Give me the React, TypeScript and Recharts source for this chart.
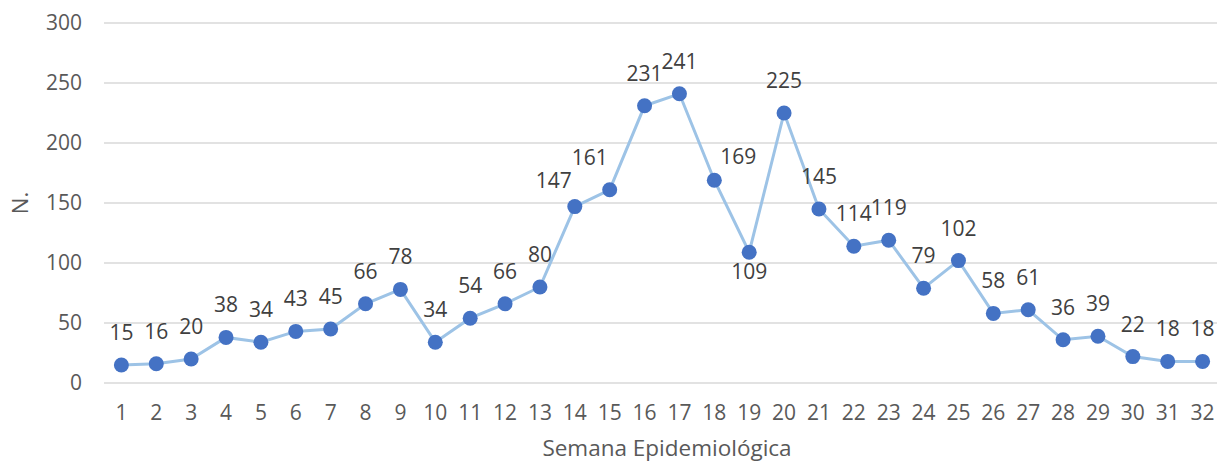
import { LineChart, Line, XAxis, YAxis, CartesianGrid, LabelList, Label } from 'recharts';

const weeks = [
  1, 2, 3, 4, 5, 6, 7, 8, 9, 10, 11, 12, 13, 14, 15, 16,
  17, 18, 19, 20, 21, 22, 23, 24, 25, 26, 27, 28, 29, 30, 31, 32,
];
const cases = [
  15, 16, 20, 38, 34, 43, 45, 66, 78, 34, 54, 66, 80, 147, 161, 231,
  241, 169, 109, 225, 145, 114, 119, 79, 102, 58, 61, 36, 39, 22, 18, 18,
];
const yTicks = [0, 50, 100, 150, 200, 250, 300];

// a few labels were nudged by hand in the original
const LABEL_NUDGE: Record<number, { dx: number; dy: number }> = {
  14: { dx: -21, dy: 6 },
  15: { dx: -20, dy: 0 },
  18: { dx: 24, dy: 9 },
  19: { dx: 0, dy: 52 },
};

const FONT = '"Open Sans", "Noto Sans", sans-serif';

const data = weeks.map((w, i) => ({ week: String(w), n: cases[i] }));

function PointLabel(props: any) {
  const { x, y, value, index } = props;
  const nudge = LABEL_NUDGE[weeks[index]] || { dx: 0, dy: 0 };
  return (
    <text
      x={x + nudge.dx}
      y={y - 25 + nudge.dy}
      textAnchor="middle"
      fill="#404040"
      fontSize={21}
      fontFamily={FONT}
    >
      {value}
    </text>
  );
}

export default function App() {
  return (
    <div style={{ position: 'absolute', left: 0, top: 0, width: 1217, height: 463, overflow: 'hidden', background: '#fff' }}>
      <LineChart width={1220} height={463} data={data} margin={{ top: 23, right: 0, left: 0, bottom: 0 }}>
        <CartesianGrid vertical={false} stroke="#D9D9D9" strokeWidth={1.5} />
        <XAxis
          dataKey="week"
          axisLine={false}
          tickLine={false}
          tickSize={0}
          tickMargin={22}
          height={80}
          interval={0}
          padding={{ left: 17.4, right: 17.4 }}
          tick={{ fill: '#595959', fontSize: 21, fontFamily: FONT }}
        >
          <Label
            content={({ viewBox }: any) => (
              <text
                x={viewBox.x + viewBox.width / 2 + 5}
                y={viewBox.y + viewBox.height - 7}
                textAnchor="middle"
                fill="#595959"
                fontSize={22.5}
                fontFamily={FONT}
              >
                Semana Epidemiológica
              </text>
            )}
          />
        </XAxis>
        <YAxis
          width={104}
          domain={[0, 300]}
          ticks={yTicks}
          axisLine={false}
          tickLine={false}
          tickSize={0}
          tickMargin={22}
          tick={{ fill: '#595959', fontSize: 21, fontFamily: FONT }}
        >
          <Label
            content={({ viewBox }: any) => {
              const cx = viewBox.x + 28;
              const cy = viewBox.y + viewBox.height / 2;
              return (
                <text
                  x={cx}
                  y={cy}
                  transform={`rotate(-90, ${cx}, ${cy})`}
                  textAnchor="middle"
                  fill="#595959"
                  fontSize={22}
                  fontFamily={FONT}
                >
                  N.
                </text>
              );
            }}
          />
        </YAxis>
        <Line
          type="linear"
          dataKey="n"
          stroke="#9DC3E6"
          strokeWidth={3}
          dot={{ r: 7.5, fill: '#4472C4', stroke: '#4472C4', strokeWidth: 0 }}
          activeDot={false}
          isAnimationActive={false}
        >
          <LabelList dataKey="n" content={<PointLabel />} />
        </Line>
      </LineChart>
    </div>
  );
}
